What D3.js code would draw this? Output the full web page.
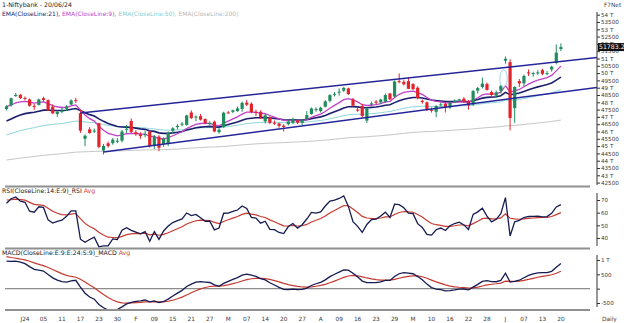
<!DOCTYPE html>
<html>
<head>
<meta charset="utf-8">
<script src="https://cdn.jsdelivr.net/npm/d3@7"></script>
<style>
  html, body { margin: 0; padding: 0; background: #fff; }
  svg { display: block; font-family: "DejaVu Sans", Verdana, sans-serif; }
</style>
</head>
<body>
<svg id="chart" width="624" height="323"></svg>
<script>
// ---- Daily Nifty Bank bars (trading sessions, incl. special Saturday sessions) ----
const dates = [
  "2023-12-26","2023-12-27","2023-12-28","2023-12-29",
  "2024-01-01","2024-01-02","2024-01-03","2024-01-04","2024-01-05","2024-01-08","2024-01-09","2024-01-10","2024-01-11","2024-01-12",
  "2024-01-15","2024-01-16","2024-01-17","2024-01-18","2024-01-19","2024-01-20","2024-01-23","2024-01-24","2024-01-25","2024-01-29",
  "2024-01-30","2024-01-31",
  "2024-02-01","2024-02-02","2024-02-05","2024-02-06","2024-02-07","2024-02-08","2024-02-09","2024-02-12","2024-02-13","2024-02-14",
  "2024-02-15","2024-02-16","2024-02-19","2024-02-20","2024-02-21","2024-02-22","2024-02-23","2024-02-26","2024-02-27","2024-02-28",
  "2024-02-29",
  "2024-03-01","2024-03-02","2024-03-04","2024-03-05","2024-03-06","2024-03-07","2024-03-11","2024-03-12","2024-03-13","2024-03-14",
  "2024-03-15","2024-03-18","2024-03-19","2024-03-20","2024-03-21","2024-03-22","2024-03-26","2024-03-27","2024-03-28",
  "2024-04-01","2024-04-02","2024-04-03","2024-04-04","2024-04-05","2024-04-08","2024-04-09","2024-04-10","2024-04-12","2024-04-15",
  "2024-04-16","2024-04-18","2024-04-19","2024-04-22","2024-04-23","2024-04-24","2024-04-25","2024-04-26","2024-04-29","2024-04-30",
  "2024-05-02","2024-05-03","2024-05-06","2024-05-07","2024-05-08","2024-05-09","2024-05-10","2024-05-13","2024-05-14","2024-05-15",
  "2024-05-16","2024-05-17","2024-05-18","2024-05-21","2024-05-22","2024-05-23","2024-05-24","2024-05-27","2024-05-28","2024-05-29",
  "2024-05-30","2024-05-31",
  "2024-06-03","2024-06-04","2024-06-05","2024-06-06","2024-06-07","2024-06-10","2024-06-11","2024-06-12","2024-06-13","2024-06-14",
  "2024-06-18","2024-06-19","2024-06-20"
];

const opens = [
  47540,47800,48420,48510,
  48300,48200,47760,47820,48280,48150,47700,47200,47350,47550,
  47850,48150,47250,45500,46150,46050,46560,44700,45190,45200,
  45300,45370,
  46150,46720,45950,45800,45750,46000,45050,45650,45150,45150,
  46050,46300,46500,46450,47300,46950,47050,46850,46550,46670,
  45950,
  46300,47300,47350,47400,47550,47980,47900,47350,47350,46700,
  46950,46600,46550,46400,46500,46600,46750,46600,46850,
  47200,47500,47400,47700,48100,48550,48700,48800,48950,48200,
  47500,47750,46750,47900,48050,48000,48050,48600,48400,49450,
  49400,49450,49250,49000,48100,48000,47500,47350,47800,47900,
  47650,48000,48150,48250,48050,47850,48800,49050,49250,48700,
  48450,48800,
  50850,50750,47600,49450,49300,50050,49950,50050,50200,49950,
  50250,50700,51650
];
const highs = [
  47800,48310,48636,48580,
  48400,48250,47900,48250,48380,48200,47850,47450,47650,47800,
  48200,48300,47500,45800,46300,46200,46600,45150,45300,45550,
  45550,46100,
  46450,46892,46100,45950,46050,46100,45750,45750,45600,46000,
  46300,46500,46650,47150,47450,47100,47200,46900,46700,46750,
  46250,
  47350,47400,47500,47700,48050,48160,48000,47500,47450,47200,
  47050,46750,46600,46500,46800,46950,46850,46850,47400,
  47650,47650,47700,48150,48550,48700,48950,49050,49000,48300,
  47700,47900,47650,48050,48150,48250,48600,48650,49500,49975,
  49550,49700,49300,49100,48200,48050,47650,47800,48000,48000,
  48050,48200,48250,48350,48150,48850,49050,49688,49350,48800,
  48800,49200,
  51133,50950,49100,49600,49900,50250,50100,50200,50300,50150,
  50500,51957,52035
];
const lows = [
  47450,47700,48380,48220,
  48130,47700,47480,47780,48050,47400,47200,47000,47250,47400,
  47800,47950,45900,45000,45850,45900,44850,44430,44900,45100,
  45200,45250,
  45900,45900,45700,45500,45600,44900,44800,44650,44950,45000,
  45850,46150,46350,46400,46850,46700,46750,46500,46450,45950,
  45850,
  46250,47250,47250,47350,47350,47750,47250,47050,46850,46550,
  46500,46450,46250,46000,46400,46500,46500,46450,46800,
  47150,47350,47300,47650,48000,48400,48450,48700,48500,47700,
  47350,46950,46580,47750,47850,47900,47950,48150,48350,49300,
  49150,48900,48850,48200,47900,47400,47300,46985,47700,47300,
  47550,47950,48100,47950,47500,47750,48600,48950,48800,48300,
  48300,48600,
  50650,46077,46600,49050,49100,49800,49750,49850,49850,49850,
  50100,50600,51500
];
const closes = [
  47724,48282,48508,48292,
  48234,47761,47704,48195,48159,47450,47242,47360,47438,47709,
  48125,48125,46064,45713,45900,46060,44950,45015,45000,45442,
  45367,45996,
  46188,45970,45825,45690,45818,45012,45634,44882,45502,45908,
  46218,46385,46535,47094,46919,47019,46811,46576,46588,46000,
  46120,
  47286,47297,47456,47581,47965,47835,47327,47282,46981,47110,
  46594,46575,46384,46310,46684,46863,46600,46785,47124,
  47578,47545,47625,48060,48493,48581,48730,48986,48565,47773,
  47484,47069,47574,47924,47970,48189,48494,48201,49424,49396,
  49231,48923,48895,48285,48021,47487,47421,47754,47859,47687,
  47977,48115,48199,48048,47782,48768,48971,49281,48853,48501,
  48682,49122,
  50979,46928,49054,49291,49803,49980,50000,50050,49950,50002,
  50440,51398,51783.2
];

// Bottom time labels (one every fourth session)
const tickDates = [
  "2024-01-01","2024-01-05","2024-01-11","2024-01-17","2024-01-23","2024-01-30","2024-02-05","2024-02-09","2024-02-15","2024-02-21",
  "2024-02-27","2024-03-02","2024-03-07","2024-03-14","2024-03-20","2024-03-27","2024-04-03","2024-04-09","2024-04-16","2024-04-23",
  "2024-04-29","2024-05-06","2024-05-10","2024-05-16","2024-05-22","2024-05-28","2024-06-03","2024-06-07","2024-06-13","2024-06-20"
];
const tickLabels = [
  "J24","05","11","17","23","30","F","09","15","21",
  "27","M","07","14","20","27","A","09","16","23",
  "29","M","10","16","22","28","J","07","13","20"
];

// Indicator state carried in from the sessions before 26 Dec 2023
const ema21Start = 46715, ema9Start = 47700, ema50Start = 45760, ema200Start = 44050;
const ema24Start = 46740, macdAvgStart = 1120;
const rsiPrevClose = 47492, rsiGainStart = 230, rsiLossStart = 120, rsiAvgStart = 70;

// Price axis ticks and panel ticks
const priceTicks = d3.range(42500, 54001, 500);
const rsiTicks = [40, 50, 60, 70];
const macdTicks = [1000, 500, 0, -500];

// Hand-drawn channel (session index, price) and the marked area around 3 June
const channelUpper = [[16, 47260], [128, 51070]];
const channelLower = [[21, 44600], [128, 49027]];
const markedArea = { index: 107.6, price: 49630, halfBars: 0.8, halfPrice: 600 };

// ---- indicators ----
function ema(values, period, start) {
  const k = 2 / (period + 1);
  const out = [start];
  for (let i = 1; i < values.length; i++) out.push(out[i - 1] + k * (values[i] - out[i - 1]));
  return out;
}
const ema9 = ema(closes, 9, ema9Start);
const ema21 = ema(closes, 21, ema21Start);
const ema50 = ema(closes, 50, ema50Start);
const ema200 = ema(closes, 200, ema200Start);
const ema24 = ema(closes, 24, ema24Start);
const macd = ema9.map((v, i) => v - ema24[i]);
const macdAvg = ema(macd, 9, macdAvgStart);

let gain = rsiGainStart, loss = rsiLossStart, prev = rsiPrevClose;
const rsi = closes.map(c => {
  const d = c - prev; prev = c;
  gain = (gain * 13 + Math.max(d, 0)) / 14;
  loss = (loss * 13 + Math.max(-d, 0)) / 14;
  return 100 - 100 / (1 + gain / loss);
});
const rsiAvg = (() => {
  const k = 2 / 10, out = [rsiAvgStart];
  for (let i = 1; i < rsi.length; i++) out.push(out[i - 1] + k * (rsi[i] - out[i - 1]));
  return out;
})();

// ---- layout ----
const svg = d3.select("#chart");
const axisX = 597, plotLeft = 0, sepRight = 590;
const x = d3.scaleLinear().domain([0, 120]).range([6.5, 560.9]);
const yPrice = d3.scaleLinear().domain([42500, 54000]).range([182.6, 14.7]);
const yRsi = d3.scaleLinear().domain([40, 70]).range([238, 200]);
const yMacd = d3.scaleLinear().domain([-500, 1000]).range([303, 260]);
const idx = dates.map((d, i) => i);
const indexOf = d => dates.indexOf(d);

const defs = svg.append("defs");
function clip(id, y0, y1) {
  defs.append("clipPath").attr("id", id).append("rect")
    .attr("x", plotLeft).attr("y", y0).attr("width", axisX - plotLeft).attr("height", y1 - y0);
  return "url(#" + id + ")";
}
const gMain = svg.append("g").attr("clip-path", clip("cMain", 0, 185));
const gRsi = svg.append("g").attr("clip-path", clip("cRsi", 188, 248));
const gMacd = svg.append("g").attr("clip-path", clip("cMacd", 250, 310));

// panel separators
[186.5, 248.5, 310].forEach(y => {
  svg.append("line").attr("x1", 5).attr("x2", sepRight).attr("y1", y).attr("y2", y)
    .attr("stroke", "#909090").attr("stroke-width", 1.8);
});

// ---- price panel ----
const lineOf = (arr, ys) => d3.line().x((d, i) => x(i)).y(d => ys(d))(arr);
[[ema200, "#c6c6c6", 1], [ema50, "#8ed6dc", 1], [ema21, "#1b1f6e", 1.6], [ema9, "#c23fc8", 1.3]]
  .forEach(([arr, col, w]) => {
    gMain.append("path").attr("d", lineOf(arr, yPrice)).attr("fill", "none")
      .attr("stroke", col).attr("stroke-width", w);
  });

const up = "#1f8c5c", down = "#e3232c";
const candles = gMain.append("g").selectAll("g").data(idx).join("g");
candles.append("line")
  .attr("x1", i => x(i)).attr("x2", i => x(i))
  .attr("y1", i => yPrice(highs[i])).attr("y2", i => yPrice(lows[i]))
  .attr("stroke", i => closes[i] >= opens[i] ? up : down).attr("stroke-width", 1);
candles.append("rect")
  .attr("x", i => x(i) - 1.6).attr("width", 3.2)
  .attr("y", i => yPrice(Math.max(opens[i], closes[i])))
  .attr("height", i => Math.max(1, yPrice(Math.min(opens[i], closes[i])) - yPrice(Math.max(opens[i], closes[i]))))
  .attr("fill", i => closes[i] >= opens[i] ? up : down);

[channelUpper, channelLower].forEach(seg => {
  gMain.append("line")
    .attr("x1", x(seg[0][0])).attr("y1", yPrice(seg[0][1]))
    .attr("x2", x(seg[1][0])).attr("y2", yPrice(seg[1][1]))
    .attr("stroke", "#25259a").attr("stroke-width", 1.5);
});
gMain.append("ellipse")
  .attr("cx", x(markedArea.index)).attr("cy", yPrice(markedArea.price))
  .attr("rx", x(markedArea.halfBars) - x(0))
  .attr("ry", yPrice(markedArea.price - markedArea.halfPrice) - yPrice(markedArea.price))
  .attr("fill", "none").attr("stroke", "#9fd3ea").attr("stroke-width", 1);

// legend
const fs = 6.2;
svg.append("text").attr("x", 2).attr("y", 7.3).attr("font-size", fs).attr("fill", "#222")
  .text("1-Niftybank - 20/06/24");
const leg = svg.append("text").attr("x", 2).attr("y", 15.5).attr("font-size", 6.0);
[["EMA(CloseLine:21), ", "#1b1f6e"], ["EMA(CloseLine:9), ", "#c23fc8"],
 ["EMA(CloseLine:50), ", "#7fd0d6"], ["EMA(CloseLine:200)", "#b8b8b8"]]
  .forEach(([t, c]) => leg.append("tspan").attr("fill", c).text(t));

// ---- RSI panel ----
gRsi.append("path").attr("d", lineOf(rsiAvg, yRsi)).attr("fill", "none").attr("stroke", "#c53a30").attr("stroke-width", 1.2);
gRsi.append("path").attr("d", lineOf(rsi, yRsi)).attr("fill", "none").attr("stroke", "#161b52").attr("stroke-width", 1.3);
const rl = svg.append("text").attr("x", 2).attr("y", 193).attr("font-size", fs);
rl.append("tspan").attr("fill", "#222").text("RSI(CloseLine:14:E:9)_RSI ");
rl.append("tspan").attr("fill", "#d03a30").text("Avg");

// ---- MACD panel ----
gMacd.append("line").attr("x1", 5).attr("x2", sepRight).attr("y1", yMacd(0)).attr("y2", yMacd(0))
  .attr("stroke", "#8c8c8c").attr("stroke-width", 1.2);
gMacd.append("path").attr("d", lineOf(macdAvg, yMacd)).attr("fill", "none").attr("stroke", "#c53a30").attr("stroke-width", 1.2);
gMacd.append("path").attr("d", lineOf(macd, yMacd)).attr("fill", "none").attr("stroke", "#161b52").attr("stroke-width", 1.3);
const ml = svg.append("text").attr("x", 2).attr("y", 255).attr("font-size", fs);
ml.append("tspan").attr("fill", "#222").text("MACD(CloseLine:E:9:E:24:S:9)_MACD ");
ml.append("tspan").attr("fill", "#d03a30").text("Avg");

// ---- right-hand axes ----
function rightAxis(scale, ticks, fmt, y0, y1) {
  const g = svg.append("g").attr("transform", `translate(${axisX},0)`)
    .call(d3.axisRight(scale).tickValues(ticks).tickFormat(fmt).tickSize(3).tickSizeOuter(0).tickPadding(1));
  g.select(".domain").remove();
  g.append("line").attr("x1", 0).attr("x2", 0).attr("y1", y0).attr("y2", y1).attr("stroke", "#333");
  g.selectAll(".tick line").attr("stroke", "#333");
  g.selectAll(".tick text").attr("font-size", 5.6).attr("fill", "#3a3a3a")
    .attr("font-family", "'DejaVu Sans', Verdana, sans-serif");
  return g;
}
rightAxis(yPrice, priceTicks, v => v % 1000 === 0 ? (v / 1000) + " T" : String(v), 12, 185);
rightAxis(yRsi, rsiTicks, d => String(d), 193, 246);
rightAxis(yMacd, macdTicks, v => v === 0 ? "" : (v % 1000 === 0 ? (v / 1000) + " T" : String(v)), 255, 307);

// last close marker (sits over the neighbouring price labels)
const lastClose = closes[closes.length - 1];
svg.append("rect").attr("x", axisX + 1).attr("y", yPrice(lastClose) - 4).attr("width", 27).attr("height", 8).attr("fill", "#111");
svg.append("text").attr("x", axisX + 2).attr("y", yPrice(lastClose) + 2.2).attr("font-size", 6.2)
  .attr("fill", "#fff").text(d3.format(".1f")(lastClose));

svg.append("text").attr("x", 604).attr("y", 7).attr("font-size", 5.8).attr("fill", "#444").text("F7Net");
svg.append("text").attr("x", 602).attr("y", 321).attr("font-size", 5.8).attr("fill", "#444").text("Daily");

// bottom time labels
svg.append("g").selectAll("text").data(tickDates).join("text")
  .attr("x", d => x(indexOf(d))).attr("y", 321).attr("text-anchor", "middle")
  .attr("font-size", 5.8).attr("fill", "#3a3a3a")
  .text((d, i) => tickLabels[i]);
</script>
</body>
</html>
